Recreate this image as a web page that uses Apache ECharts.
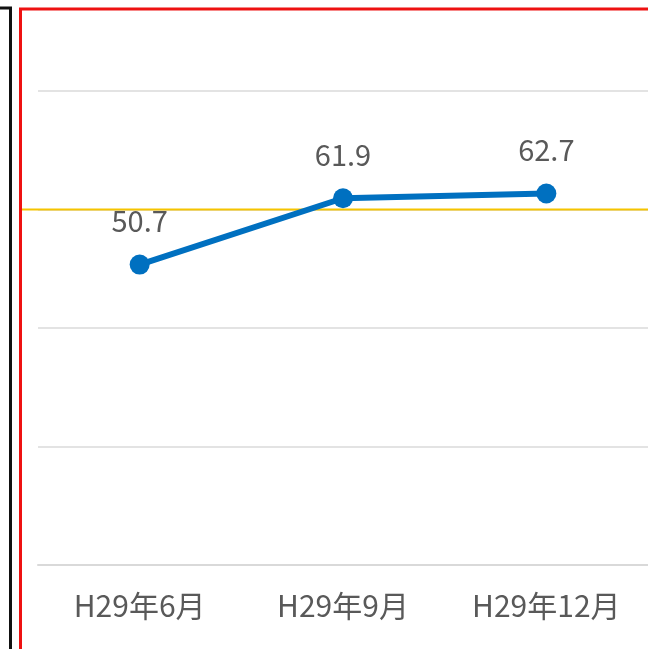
<!DOCTYPE html>
<html>
<head>
<meta charset="utf-8">
<script src="https://cdn.jsdelivr.net/npm/echarts@6/dist/echarts.min.js"></script>
<style>
  html, body { margin: 0; padding: 0; background: #fff; }
  #chart { width: 648px; height: 649px; }
</style>
</head>
<body>
<div id="chart"></div>
<script>
// data
var categories = ["H29年6月", "H29年9月", "H29年12月"];
var values = [50.7, 61.9, 62.7];
var targetValue = 60;
var yTicks = [0, 20, 40, 60, 80];

var chart = echarts.init(document.getElementById("chart"));

var labelFont = "'Noto Sans CJK JP', 'Noto Sans', sans-serif";

var option = {
  animation: false,
  backgroundColor: "#ffffff",
  grid: [
    // 本体
    { left: 38, right: -2, top: 91, bottom: 84 },
    // 目標線用（左端まで伸ばす）
    { left: 22, right: -2, top: 91, bottom: 84 }
  ],
  xAxis: [
    {
      type: "category",
      gridIndex: 0,
      data: categories,
      boundaryGap: true,
      axisLine: { lineStyle: { color: "#d9d9d9", width: 2 } },
      axisTick: { show: false },
      axisLabel: {
        color: "#595959",
        fontSize: 30,
        fontFamily: labelFont,
        margin: 26
      }
    },
    {
      type: "category",
      gridIndex: 1,
      data: ["a", "b"],
      boundaryGap: false,
      show: false
    }
  ],
  yAxis: [
    {
      type: "value",
      gridIndex: 0,
      min: yTicks[0],
      max: yTicks[yTicks.length - 1],
      interval: 20,
      axisLine: { show: false },
      axisTick: { show: false },
      axisLabel: { show: false },
      splitLine: { lineStyle: { color: "#e3e3e3", width: 2 } }
    },
    {
      type: "value",
      gridIndex: 1,
      min: yTicks[0],
      max: yTicks[yTicks.length - 1],
      show: false
    }
  ],
  series: [
    {
      type: "line",
      xAxisIndex: 1,
      yAxisIndex: 1,
      data: [targetValue, targetValue],
      symbol: "none",
      z: 1,
      lineStyle: { color: "#f5c400", width: 2 },
      silent: true
    },
    {
      type: "line",
      xAxisIndex: 0,
      yAxisIndex: 0,
      data: values,
      symbol: "circle",
      symbolSize: 20,
      z: 3,
      itemStyle: { color: "#0070c0" },
      lineStyle: { color: "#0070c0", width: 6 },
      label: {
        show: true,
        position: "top",
        distance: 19,
        color: "#595959",
        fontSize: 29,
        fontFamily: labelFont
      }
    }
  ],
  graphic: [
    {
      type: "polyline",
      shape: { points: [[0, 8], [10.5, 8], [10.5, 649]] },
      style: { stroke: "#111111", lineWidth: 3, fill: null }
    },
    {
      type: "polyline",
      shape: { points: [[20.5, 649], [20.5, 9], [648, 9]] },
      style: { stroke: "#ee1111", lineWidth: 3, fill: null }
    }
  ]
};

chart.setOption(option);
</script>
</body>
</html>
